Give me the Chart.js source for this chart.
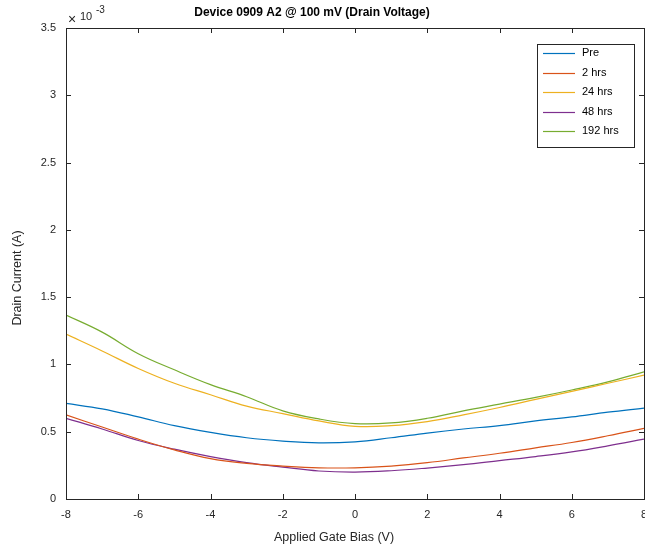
<!DOCTYPE html>
<html>
<head>
<meta charset="utf-8">
<script src="https://cdn.jsdelivr.net/npm/chart.js@4.4.1/dist/chart.umd.min.js"></script>
<style>
  html, body { margin: 0; padding: 0; background: #fff; overflow: hidden; }
  #wrap { position: relative; width: 670px; height: 550px; }
</style>
</head>
<body>
<div id="wrap"><canvas id="myChart"></canvas></div>
<script>
// gate bias (V) and drain current (x 10^-3 A)
const gateBias = [-8, -7, -6, -5, -4, -3, -2, -1, 0, 1, 2, 3, 4, 5, 6, 7, 8];
const pre    = [0.71, 0.67, 0.61, 0.545, 0.495, 0.455, 0.43, 0.417, 0.425, 0.455, 0.49, 0.52, 0.545, 0.58, 0.61, 0.645, 0.675];
const hrs2   = [0.625, 0.535, 0.445, 0.365, 0.30, 0.265, 0.245, 0.232, 0.232, 0.245, 0.27, 0.305, 0.34, 0.38, 0.42, 0.47, 0.525];
const hrs24  = [1.225, 1.10, 0.97, 0.86, 0.775, 0.69, 0.635, 0.58, 0.54, 0.545, 0.575, 0.625, 0.68, 0.74, 0.80, 0.86, 0.92];
const hrs48  = [0.60, 0.52, 0.435, 0.37, 0.315, 0.27, 0.237, 0.208, 0.20, 0.21, 0.23, 0.255, 0.285, 0.315, 0.35, 0.395, 0.445];
const hrs192 = [1.367, 1.24, 1.08, 0.96, 0.85, 0.76, 0.655, 0.595, 0.56, 0.565, 0.60, 0.655, 0.705, 0.755, 0.81, 0.87, 0.945];

const seriesNames = ["Pre", "2 hrs", "24 hrs", "48 hrs", "192 hrs"];
const seriesData = [pre, hrs2, hrs24, hrs48, hrs192];
const seriesColors = ["#0072BD", "#D95319", "#EDB120", "#7E2F8E", "#77AC30"];

const axisColor = "#262626";
const fontFam = "'Liberation Sans', Arial, Helvetica, sans-serif";

const datasets = seriesData.map((arr, i) => ({
  label: seriesNames[i],
  data: gateBias.map((g, j) => ({ x: g, y: arr[j] })),
  borderColor: seriesColors[i],
  borderWidth: 1.2,
  pointRadius: 0,
  fill: false,
  tension: 0.4
}));

// matlab style box, inward ticks, titles and legend
const matlabAxes = {
  id: 'matlabAxes',
  afterDatasetsDraw(chart) {
    const ctx = chart.ctx;
    const a = chart.chartArea;
    const xs = chart.scales.x, ys = chart.scales.y;
    ctx.save();
    ctx.strokeStyle = axisColor;
    ctx.lineWidth = 1;
    ctx.strokeRect(Math.round(a.left) + 0.5, Math.round(a.top) + 0.5, Math.round(a.right - a.left), Math.round(a.bottom - a.top));

    ctx.beginPath();
    xs.ticks.forEach(t => {
      const px = Math.round(xs.getPixelForValue(t.value)) + 0.5;
      ctx.moveTo(px, a.bottom); ctx.lineTo(px, a.bottom - 5);
      ctx.moveTo(px, a.top); ctx.lineTo(px, a.top + 5);
    });
    ys.ticks.forEach(t => {
      const py = Math.round(ys.getPixelForValue(t.value)) + 0.5;
      ctx.moveTo(a.left, py); ctx.lineTo(a.left + 5, py);
      ctx.moveTo(a.right, py); ctx.lineTo(a.right - 5, py);
    });
    ctx.stroke();

    // titles
    ctx.fillStyle = "#000";
    ctx.textAlign = 'center';
    ctx.textBaseline = 'middle';
    ctx.font = "bold 12px " + fontFam;
    ctx.fillText("Device 0909 A2 @ 100 mV (Drain Voltage)", 312, 13);

    ctx.fillStyle = axisColor;
    ctx.font = "12.5px " + fontFam;
    ctx.fillText("Applied Gate Bias (V)", 334, 538);

    ctx.save();
    ctx.translate(18, 278);
    ctx.rotate(-Math.PI / 2);
    ctx.fillText("Drain Current (A)", 0, 0);
    ctx.restore();

    // exponent
    ctx.textAlign = 'left';
    ctx.font = "14px " + fontFam;
    ctx.fillText("\u00d7", 68, 20);
    ctx.font = "11px " + fontFam;
    ctx.fillText("10", 80, 17);
    ctx.font = "10px " + fontFam;
    ctx.fillText("-3", 96, 10);

    // legend
    const lx = 537, ly = 44, lw = 97, lh = 103;
    ctx.fillStyle = "#fff";
    ctx.fillRect(lx, ly, lw, lh);
    ctx.strokeStyle = axisColor;
    ctx.strokeRect(lx + 0.5, ly + 0.5, lw, lh);
    ctx.font = "11px " + fontFam;
    ctx.textBaseline = 'middle';
    seriesNames.forEach((name, i) => {
      const y = 53 + i * 19.5;
      ctx.strokeStyle = seriesColors[i];
      ctx.lineWidth = 1.2;
      ctx.beginPath();
      ctx.moveTo(543, Math.round(y) + 0.5); ctx.lineTo(575, Math.round(y) + 0.5);
      ctx.stroke();
      ctx.fillStyle = "#000";
      ctx.fillText(name, 582, y);
    });
    ctx.restore();
  }
};

new Chart("myChart", {
  type: "line",
  data: { datasets: datasets },
  options: {
    responsive: true,
    maintainAspectRatio: false,
    animation: false,
    layout: { padding: { top: 28, right: 26, left: 0, bottom: 0 } },
    plugins: {
      legend: { display: false },
      title: { display: false },
      tooltip: { enabled: false }
    },
    scales: {
      x: {
        type: 'linear',
        min: -8, max: 8,
        ticks: { stepSize: 2, color: axisColor, padding: 9, font: { family: fontFam, size: 11 } },
        grid: { display: false, drawTicks: false },
        border: { display: false },
        afterFit: s => { s.height = 51; }
      },
      y: {
        min: 0, max: 3.5,
        ticks: {
          stepSize: 0.5, color: axisColor, padding: 10, font: { family: fontFam, size: 11 },
          callback: v => String(Math.round(v * 10) / 10)
        },
        grid: { display: false, drawTicks: false },
        border: { display: false },
        afterFit: s => { s.width = 66; }
      }
    }
  },
  plugins: [matlabAxes]
});
</script>
</body>
</html>
